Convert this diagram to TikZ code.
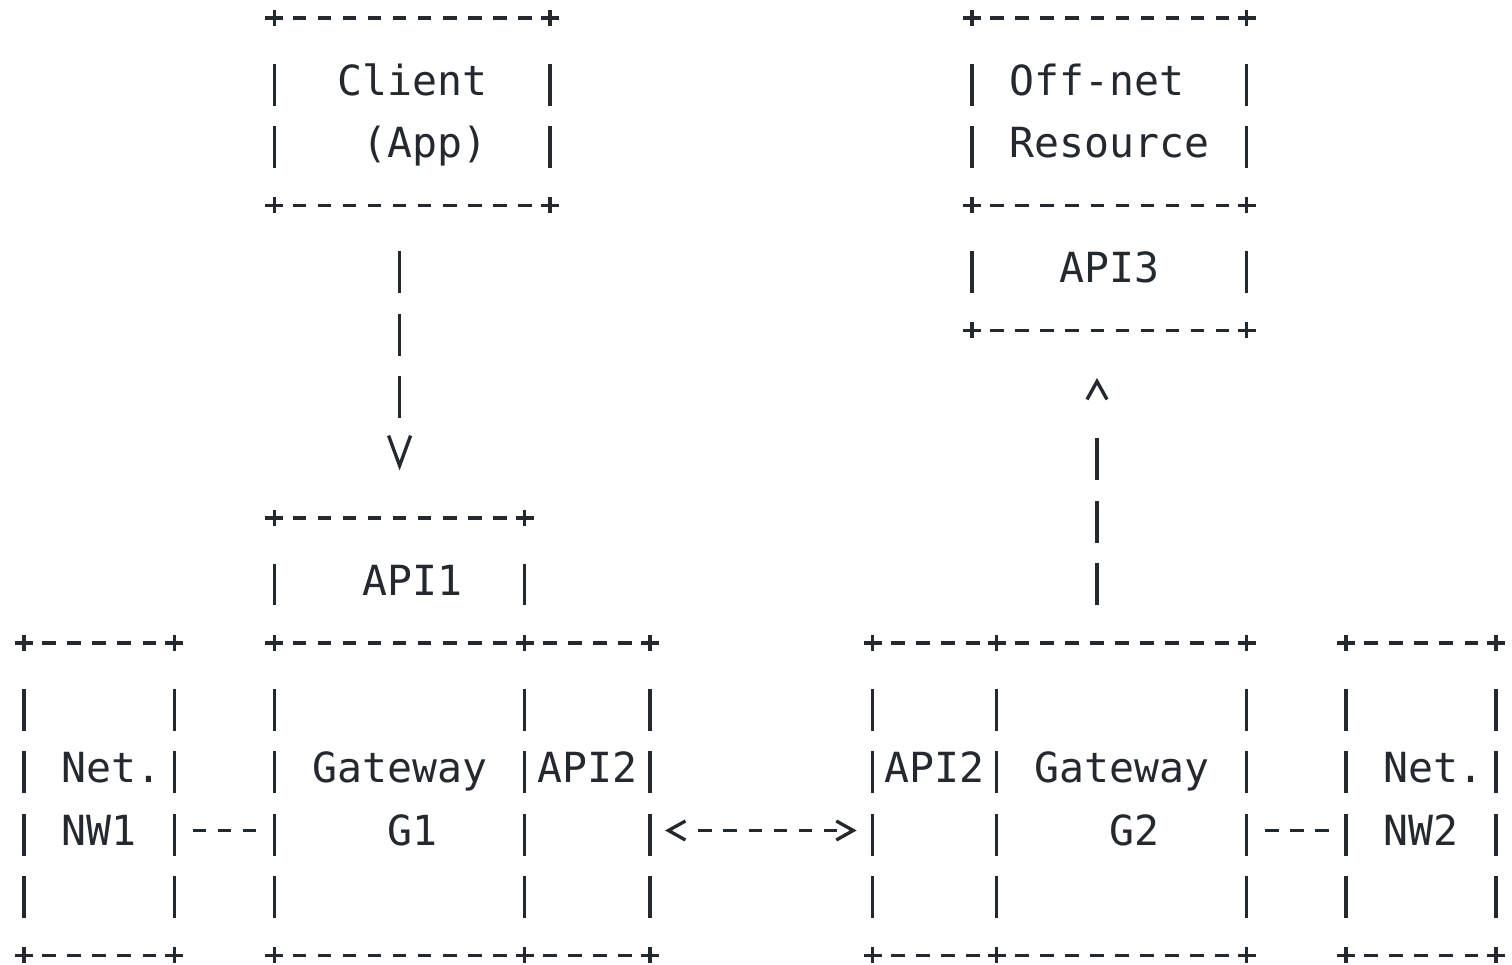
\documentclass[tikz,border=0pt]{standalone}
\usepackage{fontspec}
\newfontfamily\asciifont{DejaVu Sans Mono}
\usetikzlibrary{arrows.meta,fit}
\definecolor{ink}{HTML}{24292F}

% one ascii style box: dashed sides and a plus at each corner
\newcommand\asciibox[1]{%
  \draw[hedge] (#1.north west) -- (#1.north east);
  \draw[hedge] (#1.south west) -- (#1.south east);
  \draw[vedge] (#1.north west) -- (#1.south west);
  \draw[vedge] (#1.north east) -- (#1.south east);
  \foreach \corner in {north west,north east,south west,south east}
    {\draw[plus] (#1.\corner) +(-9,0) -- +(9,0) +(0,-8) -- +(0,8);}
}

\begin{document}
\begin{tikzpicture}[x=0.01cm, y=-0.01cm,
    box/.style = {rectangle, inner sep=0pt, outer sep=0pt},
    plus/.style = {draw=ink, line width=0.95pt},
    hedge/.style = {draw=ink, line width=0.95pt,
        dash pattern=on 0.135cm off 0.1154cm, dash phase=0.0675cm},
    vedge/.style = {draw=ink, line width=0.95pt,
        dash pattern=on 0.42cm off 0.205cm,
        shorten <=0.455cm, shorten >=0.375cm},
    hlink/.style = {draw=ink, line width=0.95pt,
        dash pattern=on 0pt off 0.183cm on 0.135cm off 0.1154cm
          on 0.135cm off 0.1154cm on 0.135cm off 3cm},
    vlink/.style = {draw=ink, line width=0.95pt,
        dash pattern=on 0pt off #1 on 0.42cm off 0.205cm
          on 0.42cm off 0.205cm on 0.42cm off 4cm},
    arrowlink/.style = {draw=ink, line width=0.95pt,
        dash pattern=on 0pt off 0.283cm on 0.135cm off 0.1154cm
          on 0.135cm off 0.1154cm on 0.135cm off 0.1154cm
          on 0.135cm off 0.1154cm on 0.135cm off 0.1154cm
          on 0.135cm off 3cm},
    lbl/.style = {anchor=base, inner sep=0pt, text=ink,
        font=\asciifont\fontsize{11.8pt}{14pt}\selectfont}]

\useasboundingbox (0,0) rectangle (1512,965);

% Client (App)
\node[box, fit={(274.4,18) (549.84,205.5)}] (client) {};
\node[lbl] (lclient) at (412.1,95.5) {Client};
\node[lbl] (lapp) at (424.6,158) {(App)};

% Off-net resource and its API3
\node[box, fit={(972,18) (1246.7,205.5)}] (offnet) {};
\node[box, fit={(972,205.5) (1246.7,330.5)}] (api3) {};
\node[lbl] (loffnet) at (1096.8,95.5) {Off-net};
\node[lbl] (lresource) at (1109.3,158) {Resource};
\node[lbl] (lapi3) at (1109.3,283) {API3};

% Gateway G1 side
\node[box, fit={(274.4,518) (524.8,643)}] (api1) {};
\node[box, fit={(24,643) (174.24,955.5)}] (nw1) {};
\node[box, fit={(274.4,643) (524.8,955.5)}] (g1) {};
\node[box, fit={(524.8,643) (650,955.5)}] (api2l) {};
\node[lbl] (lapi1) at (412.1,595.5) {API1};
\node[lbl] (lnet1) at (111.6,783) {Net.};
\node[lbl] (lnw1) at (99.1,845.5) {NW1};
\node[lbl] (lgate1) at (399.6,783) {Gateway};
\node[lbl] (lg1) at (412.1,845.5) {G1};
\node[lbl] (lapi2l) at (587.4,783) {API2};

% Gateway G2 side
\node[box, fit={(872.7,643) (996.7,955.5)}] (api2r) {};
\node[box, fit={(996.7,643) (1246.7,955.5)}] (g2) {};
\node[box, fit={(1346,643) (1496,955.5)}] (nw2) {};
\node[lbl] (lapi2r) at (934.9,783) {API2};
\node[lbl] (lgate2) at (1121.7,783) {Gateway};
\node[lbl] (lg2) at (1134.2,845.5) {G2};
\node[lbl] (lnet2) at (1433.5,783) {Net.};
\node[lbl] (lnw2) at (1421,845.5) {NW2};

% Box outlines
\foreach \b in {client,offnet,api3,api1,nw1,g1,api2l,api2r,g2,nw2}
  {\asciibox{\b}}

% Connectors
\coordinate (downx) at (399.6,0);
\coordinate (upx) at (1097,0);
\coordinate (midrow) at (0,830.5);

\draw[vlink=0.455cm, -{Straight Barb[length=0.3cm,width=0.22cm]},
    shorten >=0.475cm] (client.south -| downx) -- (api1.north -| downx);
\draw[vlink=0.375cm, -{Straight Barb[length=0.18cm,width=0.2cm]},
    shorten >=0.475cm] (g2.north -| upx) -- (api3.south -| upx);
\draw[hlink] (nw1.east |- midrow) -- (g1.west |- midrow);
\draw[hlink] (g2.east |- midrow) -- (nw2.west |- midrow);
\draw[arrowlink,
    {Straight Barb[length=0.17cm,width=0.19cm]}-{Straight Barb[length=0.17cm,width=0.19cm]},
    shorten <=0.15cm, shorten >=0.16cm] (api2l.east |- midrow) -- (api2r.west |- midrow);
\end{tikzpicture}
\end{document}
